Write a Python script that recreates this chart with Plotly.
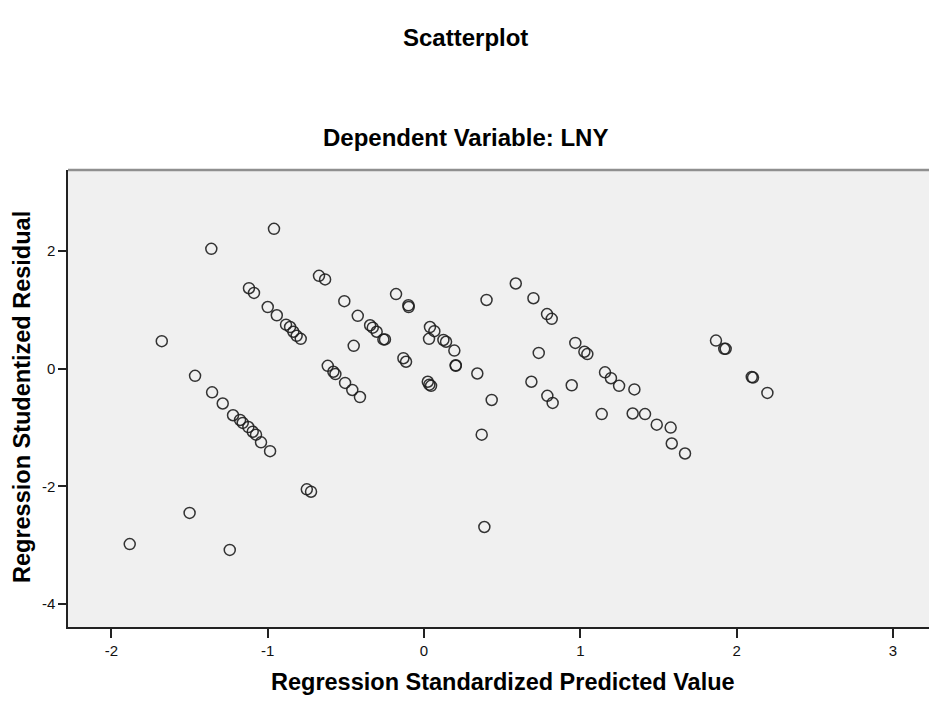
import plotly.graph_objects as go

# Regression Standardized Predicted Value (x) and Studentized Residual (y)
pred = [-0.960, -1.361, -0.672, -0.633, -1.120, -1.088, -0.510, -1.000, -0.942, -0.424,
        -0.883, -0.857, -0.836, -0.815, -0.789, -1.678, -0.450, -0.616, -0.580, -0.567,
        -0.505, -0.459, -0.410, -1.465, -1.356, -1.288, -1.222, -1.177, -1.160, -1.124,
        -1.096, -1.075, -1.043, -0.985, -0.750, -0.723, -1.500, -1.883, -1.243, -0.345,
        -0.328, -0.303, -0.260, -0.250, -0.179, -0.100, -0.098, 0.038, 0.066, 0.032,
        0.124, 0.141, 0.194, 0.203, 0.203, -0.132, -0.115, 0.024, 0.034, 0.045,
        0.341, 0.400, 0.587, 0.700, 0.787, 0.817, 0.734, 0.968, 1.026, 1.045,
        0.687, 0.945, 1.158, 1.196, 1.248, 1.346, 0.433, 0.789, 0.823, 0.369,
        0.386, 1.137, 1.335, 1.414, 1.489, 1.578, 1.585, 1.670, 1.868, 1.921,
        1.930, 2.097, 2.105, 2.197]
resid = [2.38, 2.04, 1.58, 1.52, 1.37, 1.29, 1.15, 1.05, 0.91, 0.90,
         0.75, 0.71, 0.63, 0.56, 0.51, 0.47, 0.39, 0.05, -0.05, -0.09,
         -0.24, -0.36, -0.48, -0.12, -0.40, -0.59, -0.79, -0.87, -0.92, -0.99,
         -1.07, -1.12, -1.25, -1.40, -2.05, -2.09, -2.45, -2.98, -3.08, 0.74,
         0.70, 0.63, 0.50, 0.50, 1.27, 1.08, 1.05, 0.71, 0.64, 0.51,
         0.49, 0.46, 0.31, 0.06, 0.05, 0.18, 0.12, -0.22, -0.27, -0.29,
         -0.08, 1.17, 1.45, 1.20, 0.93, 0.85, 0.27, 0.44, 0.29, 0.25,
         -0.22, -0.28, -0.06, -0.16, -0.29, -0.35, -0.53, -0.46, -0.58, -1.12,
         -2.69, -0.77, -0.76, -0.77, -0.95, -1.00, -1.27, -1.44, 0.48, 0.34,
         0.34, -0.14, -0.15, -0.41]

x_ticks = [-2, -1, 0, 1, 2, 3]
y_ticks = [-4, -2, 0, 2]

main_title = "Scatterplot"
sub_title = "Dependent Variable: LNY"
x_title = "Regression Standardized Predicted Value"
y_title = "Regression Studentized Residual"

FONT = "Liberation Sans, Arial, sans-serif"

fig = go.Figure()
fig.add_trace(go.Scatter(
    x=pred, y=resid, mode="markers",
    marker=dict(symbol="circle-open", size=11, color="rgba(30,30,30,0.9)",
                line=dict(width=1.5)),
    hoverinfo="skip", showlegend=False,
))

W, H = 929, 704
ml, mr, mt, mb = 68, 0, 170, 704 - 627
pw = W - ml - mr
ph = H - mt - mb

def pyp(page_y):
    return 1 + (mt - page_y) / ph

def pxp(page_x):
    return (page_x - ml) / pw

fig.update_layout(
    width=W, height=H,
    margin=dict(l=ml, r=mr, t=mt, b=mb),
    paper_bgcolor="white", plot_bgcolor="#f0f0f0",
    font=dict(family=FONT, color="black"),
    xaxis=dict(range=[-2.278, 3.231], tickvals=x_ticks, ticktext=[str(v) for v in x_ticks],
               showgrid=False, zeroline=False, showline=True, linecolor="#222", linewidth=1.5,
               ticks="outside", ticklen=9, tickwidth=1.5, tickcolor="#222",
               tickfont=dict(size=15, family=FONT, color="#111")),
    yaxis=dict(range=[-4.39, 3.38], tickvals=y_ticks, ticktext=[str(v) for v in y_ticks],
               showgrid=False, zeroline=False, showline=True, linecolor="#222", linewidth=1.5,
               ticks="outside", ticklen=8, tickwidth=1.5, tickcolor="#222",
               tickfont=dict(size=15, family=FONT, color="#111")),
)

# top frame line (gray)
fig.add_shape(type="line", xref="paper", yref="paper", x0=0, x1=1, y0=1, y1=1,
              line=dict(color="#8f8f8f", width=2.5))

fig.add_annotation(text="<b>%s</b>" % main_title, xref="paper", yref="paper",
                   x=pxp(465), y=pyp(38), xanchor="center", yanchor="middle", showarrow=False,
                   font=dict(size=24, family=FONT, color="black"))
fig.add_annotation(text="<b>%s</b>" % sub_title, xref="paper", yref="paper",
                   x=pxp(465), y=pyp(137), xanchor="center", yanchor="middle", showarrow=False,
                   font=dict(size=24, family=FONT, color="black"))
fig.add_annotation(text="<b>%s</b>" % x_title, xref="paper", yref="paper",
                   x=pxp(503), y=pyp(682), xanchor="center", yanchor="middle",
                   showarrow=False, font=dict(size=23.5, family=FONT, color="black"))
fig.add_annotation(text="<b>%s</b>" % y_title, xref="paper", yref="paper",
                   x=pxp(22), y=pyp(397), xanchor="center", yanchor="middle",
                   textangle=-90, showarrow=False,
                   font=dict(size=23.5, family=FONT, color="black"))

fig.write_html(
    "out.html",
    config={"displayModeBar": False},
    post_script="document.body.style.margin='0';document.body.style.overflow='hidden';",
)
